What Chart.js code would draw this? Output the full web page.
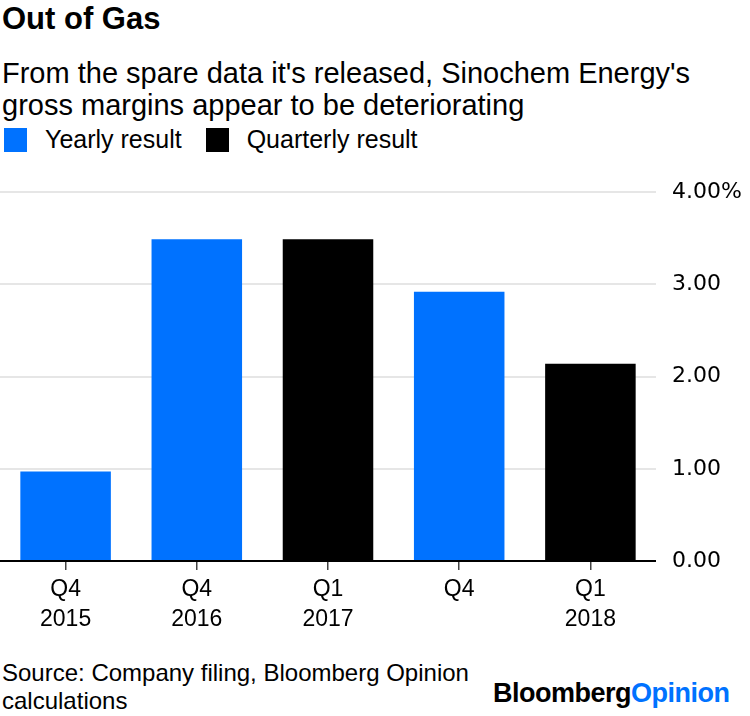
<!DOCTYPE html>
<html><head><meta charset="utf-8">
<script src="https://cdn.jsdelivr.net/npm/chart.js@4"></script>
<style>
html,body{margin:0;padding:0;background:#fff;}
body{width:750px;height:716px;position:relative;overflow:hidden;font-family:"Liberation Sans",Arial,sans-serif;color:#000;}
.t{position:absolute;left:2px;white-space:nowrap;}
#title{top:3px;font-size:31px;line-height:31px;font-weight:bold;}
#sub{top:57px;font-size:29px;line-height:32px;}
#legend{top:127px;font-size:25px;line-height:25px;display:flex;align-items:center;left:4px;}
.sw{display:inline-block;width:23px;height:24px;margin-right:18px;}
#foot{top:659px;font-size:24px;line-height:28px;}
#logo{position:absolute;left:493px;top:680px;font-size:27px;line-height:27px;font-weight:bold;letter-spacing:-0.5px;white-space:nowrap;}
#wrap{position:absolute;left:0;top:163px;width:750px;height:477px;}
</style></head><body>
<div class="t" id="title">Out of Gas</div>
<div class="t" id="sub">From the spare data it's released, Sinochem Energy's<br>gross margins appear to be deteriorating</div>
<div class="t" id="legend"><span class="sw" style="background:#0072ff"></span><span style="margin-right:24px">Yearly result</span><span class="sw" style="background:#000"></span><span>Quarterly result</span></div>
<div id="wrap"><canvas id="c"></canvas></div>
<div class="t" id="foot">Source: Company filing, Bloomberg Opinion<br>calculations</div>
<div id="logo">Bloomberg<span style="color:#0072ff">Opinion</span></div>
<script>
const categories = [["Q4","2015"],["Q4","2016"],["Q1","2017"],["Q4",""],["Q1","2018"]];
const resultType = ["Yearly","Yearly","Quarterly","Yearly","Quarterly"];
const grossMargin = [0.97, 3.49, 3.49, 2.92, 2.14];
const yTicks = [0, 1, 2, 3, 4];
const typeColors = {Yearly:"#0072ff", Quarterly:"#000000"};

new Chart(document.getElementById('c'), {
  type: 'bar',
  data: {
    labels: categories,
    datasets: [{
      data: grossMargin,
      backgroundColor: resultType.map(t => typeColors[t]),
      borderWidth: 0,
      barPercentage: 0.69,
      categoryPercentage: 1.0
    }]
  },
  options: {
    responsive: true,
    maintainAspectRatio: false,
    animation: false,
    layout: {padding: {top: 5, left: 0, right: 0, bottom: 0}},
    plugins: {legend: {display: false}, tooltip: {enabled: false}},
    scales: {
      x: {
        offset: true,
        grid: {display: true, drawOnChartArea: false, drawTicks: true, tickLength: 9, offset: false, color: '#444', lineWidth: 1.5},
        border: {display: false},
        ticks: {color: '#000', font: {family: '"Liberation Sans", Arial, sans-serif', size: 23, lineHeight: 1.3}, padding: 5, maxRotation: 0},
        afterFit: s => { s.height = 79; }
      },
      y: {
        position: 'right',
        min: 0, max: 4,
        afterBuildTicks: s => { s.ticks = yTicks.map(v => ({value: v})); },
        grid: {
          drawTicks: false,
          color: c => c.tick && c.tick.value === 0 ? '#000' : '#e6e6e6',
          lineWidth: 2
        },
        border: {display: false},
        ticks: {
          color: '#000',
          padding: 16,
          font: {family: '"DejaVu Sans", sans-serif', size: 22},
          callback: v => v === 4 ? v.toFixed(2) + '%' : v.toFixed(2)
        },
        afterFit: s => { s.width = 94; }
      }
    }
  }
});
</script>
</body></html>
